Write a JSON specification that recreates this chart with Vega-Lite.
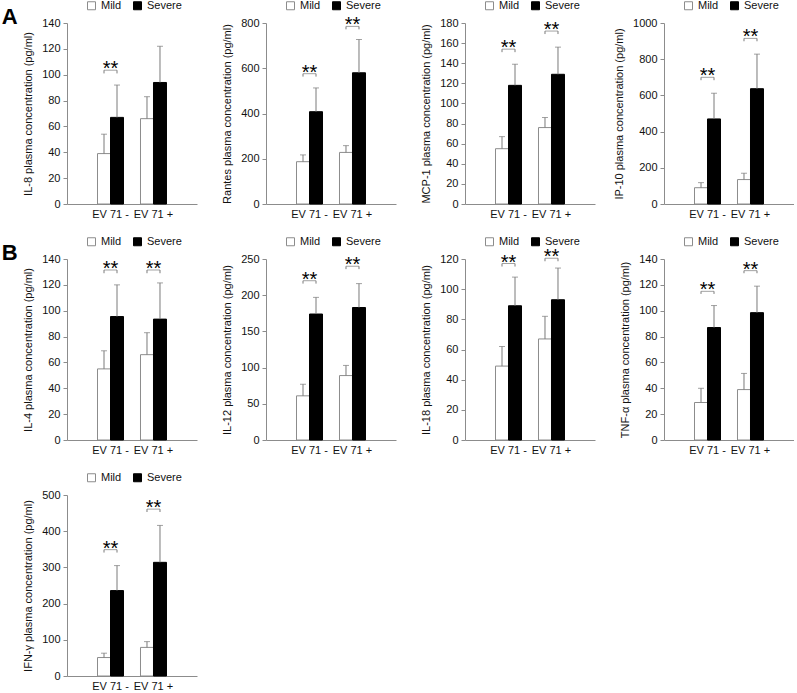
{
"$schema": "https://vega.github.io/schema/vega-lite/v6.json",
"background": "white",
"padding": {"left": 1, "top": 0, "right": 0, "bottom": 0},
"config": {
 "font": "Liberation Sans",
 "view": {"stroke": null},
 "axis": {"labelFontSize": 11, "titleFontSize": 11, "titleFontWeight": "normal", "labelColor": "#111", "titleColor": "#111", "domainColor": "#8c8c8c", "tickColor": "#8c8c8c", "grid": false, "labelOverlap": false},
 "axisY": {"tickSize": 4, "labelPadding": 3, "titlePadding": 8, "format": "d"},
 "axisX": {"ticks": false, "labelPadding": 4, "labelAngle": 0},
 "legend": {"symbolType": "square", "symbolSize": 64, "labelFontSize": 11, "labelColor": "#111", "symbolStrokeColor": "#8c8c8c", "symbolStrokeWidth": 1, "columnPadding": 9, "labelOffset": 4, "padding": 0}
},
"datasets": {
 "bars": [
  {"p": "IL-8", "g": "EV 71 -", "s": "Mild", "v": 39, "hi": 54},
  {"p": "IL-8", "g": "EV 71 -", "s": "Severe", "v": 67, "hi": 92},
  {"p": "IL-8", "g": "EV 71 +", "s": "Mild", "v": 66, "hi": 83},
  {"p": "IL-8", "g": "EV 71 +", "s": "Severe", "v": 94, "hi": 122},
  {"p": "Rantes", "g": "EV 71 -", "s": "Mild", "v": 187, "hi": 217},
  {"p": "Rantes", "g": "EV 71 -", "s": "Severe", "v": 408, "hi": 513},
  {"p": "Rantes", "g": "EV 71 +", "s": "Mild", "v": 228, "hi": 258},
  {"p": "Rantes", "g": "EV 71 +", "s": "Severe", "v": 580, "hi": 727},
  {"p": "MCP-1", "g": "EV 71 -", "s": "Mild", "v": 55, "hi": 67},
  {"p": "MCP-1", "g": "EV 71 -", "s": "Severe", "v": 118, "hi": 139},
  {"p": "MCP-1", "g": "EV 71 +", "s": "Mild", "v": 76, "hi": 86},
  {"p": "MCP-1", "g": "EV 71 +", "s": "Severe", "v": 129, "hi": 156},
  {"p": "IP-10", "g": "EV 71 -", "s": "Mild", "v": 90, "hi": 118},
  {"p": "IP-10", "g": "EV 71 -", "s": "Severe", "v": 470, "hi": 612},
  {"p": "IP-10", "g": "EV 71 +", "s": "Mild", "v": 135, "hi": 170},
  {"p": "IP-10", "g": "EV 71 +", "s": "Severe", "v": 637, "hi": 828},
  {"p": "IL-4", "g": "EV 71 -", "s": "Mild", "v": 55, "hi": 69},
  {"p": "IL-4", "g": "EV 71 -", "s": "Severe", "v": 95.5, "hi": 120},
  {"p": "IL-4", "g": "EV 71 +", "s": "Mild", "v": 66, "hi": 83},
  {"p": "IL-4", "g": "EV 71 +", "s": "Severe", "v": 93.5, "hi": 121.5},
  {"p": "IL-12", "g": "EV 71 -", "s": "Mild", "v": 61, "hi": 77},
  {"p": "IL-12", "g": "EV 71 -", "s": "Severe", "v": 174, "hi": 197},
  {"p": "IL-12", "g": "EV 71 +", "s": "Mild", "v": 89, "hi": 103},
  {"p": "IL-12", "g": "EV 71 +", "s": "Severe", "v": 183, "hi": 216},
  {"p": "IL-18", "g": "EV 71 -", "s": "Mild", "v": 49, "hi": 62},
  {"p": "IL-18", "g": "EV 71 -", "s": "Severe", "v": 89, "hi": 108},
  {"p": "IL-18", "g": "EV 71 +", "s": "Mild", "v": 67, "hi": 82},
  {"p": "IL-18", "g": "EV 71 +", "s": "Severe", "v": 93, "hi": 114},
  {"p": "TNF", "g": "EV 71 -", "s": "Mild", "v": 29, "hi": 40},
  {"p": "TNF", "g": "EV 71 -", "s": "Severe", "v": 87, "hi": 104},
  {"p": "TNF", "g": "EV 71 +", "s": "Mild", "v": 39, "hi": 51.5},
  {"p": "TNF", "g": "EV 71 +", "s": "Severe", "v": 98.5, "hi": 119},
  {"p": "IFN", "g": "EV 71 -", "s": "Mild", "v": 51, "hi": 63},
  {"p": "IFN", "g": "EV 71 -", "s": "Severe", "v": 236, "hi": 305},
  {"p": "IFN", "g": "EV 71 +", "s": "Mild", "v": 79, "hi": 95},
  {"p": "IFN", "g": "EV 71 +", "s": "Severe", "v": 314, "hi": 416}
 ],
 "sig": [
  {"p": "IL-8", "g": "EV 71 -", "s": "Mild", "top": 103.5, "low": 101},
  {"p": "IL-8", "g": "EV 71 -", "s": "Severe", "top": 103.5, "low": 101},
  {"p": "Rantes", "g": "EV 71 -", "s": "Mild", "top": 576, "low": 563},
  {"p": "Rantes", "g": "EV 71 -", "s": "Severe", "top": 576, "low": 563},
  {"p": "Rantes", "g": "EV 71 +", "s": "Mild", "top": 785, "low": 772},
  {"p": "Rantes", "g": "EV 71 +", "s": "Severe", "top": 785, "low": 772},
  {"p": "MCP-1", "g": "EV 71 -", "s": "Mild", "top": 154, "low": 151},
  {"p": "MCP-1", "g": "EV 71 -", "s": "Severe", "top": 154, "low": 151},
  {"p": "MCP-1", "g": "EV 71 +", "s": "Mild", "top": 172, "low": 169},
  {"p": "MCP-1", "g": "EV 71 +", "s": "Severe", "top": 172, "low": 169},
  {"p": "IP-10", "g": "EV 71 -", "s": "Mild", "top": 700, "low": 684},
  {"p": "IP-10", "g": "EV 71 -", "s": "Severe", "top": 700, "low": 684},
  {"p": "IP-10", "g": "EV 71 +", "s": "Mild", "top": 915, "low": 899},
  {"p": "IP-10", "g": "EV 71 +", "s": "Severe", "top": 915, "low": 899},
  {"p": "IL-4", "g": "EV 71 -", "s": "Mild", "top": 131.5, "low": 129},
  {"p": "IL-4", "g": "EV 71 -", "s": "Severe", "top": 131.5, "low": 129},
  {"p": "IL-4", "g": "EV 71 +", "s": "Mild", "top": 131.5, "low": 129},
  {"p": "IL-4", "g": "EV 71 +", "s": "Severe", "top": 131.5, "low": 129},
  {"p": "IL-12", "g": "EV 71 -", "s": "Mild", "top": 220, "low": 216},
  {"p": "IL-12", "g": "EV 71 -", "s": "Severe", "top": 220, "low": 216},
  {"p": "IL-12", "g": "EV 71 +", "s": "Mild", "top": 240, "low": 236},
  {"p": "IL-12", "g": "EV 71 +", "s": "Severe", "top": 240, "low": 236},
  {"p": "IL-18", "g": "EV 71 -", "s": "Mild", "top": 117, "low": 115},
  {"p": "IL-18", "g": "EV 71 -", "s": "Severe", "top": 117, "low": 115},
  {"p": "IL-18", "g": "EV 71 +", "s": "Mild", "top": 120.5, "low": 118.5},
  {"p": "IL-18", "g": "EV 71 +", "s": "Severe", "top": 120.5, "low": 118.5},
  {"p": "TNF", "g": "EV 71 -", "s": "Mild", "top": 115, "low": 113},
  {"p": "TNF", "g": "EV 71 -", "s": "Severe", "top": 115, "low": 113},
  {"p": "TNF", "g": "EV 71 +", "s": "Mild", "top": 131, "low": 129},
  {"p": "TNF", "g": "EV 71 +", "s": "Severe", "top": 131, "low": 129},
  {"p": "IFN", "g": "EV 71 -", "s": "Mild", "top": 349, "low": 341},
  {"p": "IFN", "g": "EV 71 -", "s": "Severe", "top": 349, "low": 341},
  {"p": "IFN", "g": "EV 71 +", "s": "Mild", "top": 461, "low": 453},
  {"p": "IFN", "g": "EV 71 +", "s": "Severe", "top": 461, "low": 453}
 ]
},
"columns": 4,
"spacing": {"row": 55, "column": 69},
"bounds": "flush",
"resolve": {"scale": {"color": "independent", "stroke": "independent"}},
"concat": [
   {"width": 130, "height": 181,
    "title": {"text": "A", "orient": "left", "anchor": "end", "frame": "group", "angle": 0, "align": "right", "baseline": "alphabetic", "fontSize": 22, "fontWeight": "bold", "offset": 6, "dy": 1, "dx": 17, "color": "#000"},
    "encoding": {"x": {"field": "g", "type": "nominal", "sort": ["EV 71 -", "EV 71 +"], "scale": {"paddingInner": 0.395, "paddingOuter": 0.71}, "axis": {"title": null}}},
    "layer": [
     {"data": {"name": "bars"}, "transform": [{"filter": "datum.p == 'IL-8'"}], "mark": {"type": "bar", "strokeWidth": 1},
      "encoding": {"xOffset": {"field": "s", "type": "nominal", "sort": ["Mild", "Severe"], "scale": {"paddingInner": 0, "paddingOuter": 0}},
       "y": {"field": "v", "type": "quantitative", "scale": {"domain": [0, 140], "nice": false}, "axis": {"title": "IL-8 plasma concentration (pg/ml)", "values": [0, 20, 40, 60, 80, 100, 120, 140], "labelOverlap": false, "tickCount": 8}},
       "color": {"field": "s", "type": "nominal", "scale": {"domain": ["Mild", "Severe"], "range": ["#ffffff", "#000000"]}, "legend": {"orient": "none", "legendX": 19, "legendY": -23, "direction": "horizontal", "title": null}},
       "stroke": {"field": "s", "type": "nominal", "scale": {"domain": ["Mild", "Severe"], "range": ["#8c8c8c", "#000000"]}, "legend": null}}},
     {"data": {"name": "bars"}, "transform": [{"filter": "datum.p == 'IL-8'"}], "mark": {"type": "rule", "color": "#7a7a7a"},
      "encoding": {"xOffset": {"field": "s", "type": "nominal", "sort": ["Mild", "Severe"]}, "y": {"field": "v", "type": "quantitative"}, "y2": {"field": "hi"}}},
     {"data": {"name": "bars"}, "transform": [{"filter": "datum.p == 'IL-8'"}], "mark": {"type": "tick", "orient": "horizontal", "size": 6, "thickness": 1, "color": "#7a7a7a"},
      "encoding": {"xOffset": {"field": "s", "type": "nominal", "sort": ["Mild", "Severe"]}, "y": {"field": "hi", "type": "quantitative"}}},
     {"data": {"name": "sig"}, "transform": [{"filter": "datum.p == 'IL-8'"}], "mark": {"type": "rule", "color": "#7a7a7a"},
      "encoding": {"xOffset": {"field": "s", "type": "nominal", "sort": ["Mild", "Severe"]}, "y": {"field": "low", "type": "quantitative"}, "y2": {"field": "top"}}},
     {"data": {"name": "sig"}, "transform": [{"filter": "datum.p == 'IL-8' && datum.s == 'Mild'"}], "mark": {"type": "tick", "orient": "horizontal", "size": 13, "thickness": 1, "color": "#7a7a7a"},
      "encoding": {"y": {"field": "top", "type": "quantitative"}}},
     {"data": {"name": "sig"}, "transform": [{"filter": "datum.p == 'IL-8' && datum.s == 'Mild'"}], "mark": {"type": "text", "text": "**", "fontSize": 20, "baseline": "alphabetic", "dy": 5, "color": "#000"},
      "encoding": {"y": {"field": "top", "type": "quantitative"}}}
    ]},
   {"width": 130, "height": 181,
    "encoding": {"x": {"field": "g", "type": "nominal", "sort": ["EV 71 -", "EV 71 +"], "scale": {"paddingInner": 0.395, "paddingOuter": 0.71}, "axis": {"title": null}}},
    "layer": [
     {"data": {"name": "bars"}, "transform": [{"filter": "datum.p == 'Rantes'"}], "mark": {"type": "bar", "strokeWidth": 1},
      "encoding": {"xOffset": {"field": "s", "type": "nominal", "sort": ["Mild", "Severe"], "scale": {"paddingInner": 0, "paddingOuter": 0}},
       "y": {"field": "v", "type": "quantitative", "scale": {"domain": [0, 800], "nice": false}, "axis": {"title": "Rantes plasma concentration (pg/ml)", "values": [0, 200, 400, 600, 800], "labelOverlap": false, "tickCount": 5}},
       "color": {"field": "s", "type": "nominal", "scale": {"domain": ["Mild", "Severe"], "range": ["#ffffff", "#000000"]}, "legend": {"orient": "none", "legendX": 19, "legendY": -23, "direction": "horizontal", "title": null}},
       "stroke": {"field": "s", "type": "nominal", "scale": {"domain": ["Mild", "Severe"], "range": ["#8c8c8c", "#000000"]}, "legend": null}}},
     {"data": {"name": "bars"}, "transform": [{"filter": "datum.p == 'Rantes'"}], "mark": {"type": "rule", "color": "#7a7a7a"},
      "encoding": {"xOffset": {"field": "s", "type": "nominal", "sort": ["Mild", "Severe"]}, "y": {"field": "v", "type": "quantitative"}, "y2": {"field": "hi"}}},
     {"data": {"name": "bars"}, "transform": [{"filter": "datum.p == 'Rantes'"}], "mark": {"type": "tick", "orient": "horizontal", "size": 6, "thickness": 1, "color": "#7a7a7a"},
      "encoding": {"xOffset": {"field": "s", "type": "nominal", "sort": ["Mild", "Severe"]}, "y": {"field": "hi", "type": "quantitative"}}},
     {"data": {"name": "sig"}, "transform": [{"filter": "datum.p == 'Rantes'"}], "mark": {"type": "rule", "color": "#7a7a7a"},
      "encoding": {"xOffset": {"field": "s", "type": "nominal", "sort": ["Mild", "Severe"]}, "y": {"field": "low", "type": "quantitative"}, "y2": {"field": "top"}}},
     {"data": {"name": "sig"}, "transform": [{"filter": "datum.p == 'Rantes' && datum.s == 'Mild'"}], "mark": {"type": "tick", "orient": "horizontal", "size": 13, "thickness": 1, "color": "#7a7a7a"},
      "encoding": {"y": {"field": "top", "type": "quantitative"}}},
     {"data": {"name": "sig"}, "transform": [{"filter": "datum.p == 'Rantes' && datum.s == 'Mild'"}], "mark": {"type": "text", "text": "**", "fontSize": 20, "baseline": "alphabetic", "dy": 5, "color": "#000"},
      "encoding": {"y": {"field": "top", "type": "quantitative"}}}
    ]},
   {"width": 130, "height": 181,
    "encoding": {"x": {"field": "g", "type": "nominal", "sort": ["EV 71 -", "EV 71 +"], "scale": {"paddingInner": 0.395, "paddingOuter": 0.71}, "axis": {"title": null}}},
    "layer": [
     {"data": {"name": "bars"}, "transform": [{"filter": "datum.p == 'MCP-1'"}], "mark": {"type": "bar", "strokeWidth": 1},
      "encoding": {"xOffset": {"field": "s", "type": "nominal", "sort": ["Mild", "Severe"], "scale": {"paddingInner": 0, "paddingOuter": 0}},
       "y": {"field": "v", "type": "quantitative", "scale": {"domain": [0, 180], "nice": false}, "axis": {"title": "MCP-1 plasma concentration (pg/ml)", "values": [0, 20, 40, 60, 80, 100, 120, 140, 160, 180], "labelOverlap": false, "tickCount": 10}},
       "color": {"field": "s", "type": "nominal", "scale": {"domain": ["Mild", "Severe"], "range": ["#ffffff", "#000000"]}, "legend": {"orient": "none", "legendX": 19, "legendY": -23, "direction": "horizontal", "title": null}},
       "stroke": {"field": "s", "type": "nominal", "scale": {"domain": ["Mild", "Severe"], "range": ["#8c8c8c", "#000000"]}, "legend": null}}},
     {"data": {"name": "bars"}, "transform": [{"filter": "datum.p == 'MCP-1'"}], "mark": {"type": "rule", "color": "#7a7a7a"},
      "encoding": {"xOffset": {"field": "s", "type": "nominal", "sort": ["Mild", "Severe"]}, "y": {"field": "v", "type": "quantitative"}, "y2": {"field": "hi"}}},
     {"data": {"name": "bars"}, "transform": [{"filter": "datum.p == 'MCP-1'"}], "mark": {"type": "tick", "orient": "horizontal", "size": 6, "thickness": 1, "color": "#7a7a7a"},
      "encoding": {"xOffset": {"field": "s", "type": "nominal", "sort": ["Mild", "Severe"]}, "y": {"field": "hi", "type": "quantitative"}}},
     {"data": {"name": "sig"}, "transform": [{"filter": "datum.p == 'MCP-1'"}], "mark": {"type": "rule", "color": "#7a7a7a"},
      "encoding": {"xOffset": {"field": "s", "type": "nominal", "sort": ["Mild", "Severe"]}, "y": {"field": "low", "type": "quantitative"}, "y2": {"field": "top"}}},
     {"data": {"name": "sig"}, "transform": [{"filter": "datum.p == 'MCP-1' && datum.s == 'Mild'"}], "mark": {"type": "tick", "orient": "horizontal", "size": 13, "thickness": 1, "color": "#7a7a7a"},
      "encoding": {"y": {"field": "top", "type": "quantitative"}}},
     {"data": {"name": "sig"}, "transform": [{"filter": "datum.p == 'MCP-1' && datum.s == 'Mild'"}], "mark": {"type": "text", "text": "**", "fontSize": 20, "baseline": "alphabetic", "dy": 5, "color": "#000"},
      "encoding": {"y": {"field": "top", "type": "quantitative"}}}
    ]},
   {"width": 130, "height": 181,
    "encoding": {"x": {"field": "g", "type": "nominal", "sort": ["EV 71 -", "EV 71 +"], "scale": {"paddingInner": 0.395, "paddingOuter": 0.71}, "axis": {"title": null}}},
    "layer": [
     {"data": {"name": "bars"}, "transform": [{"filter": "datum.p == 'IP-10'"}], "mark": {"type": "bar", "strokeWidth": 1},
      "encoding": {"xOffset": {"field": "s", "type": "nominal", "sort": ["Mild", "Severe"], "scale": {"paddingInner": 0, "paddingOuter": 0}},
       "y": {"field": "v", "type": "quantitative", "scale": {"domain": [0, 1000], "nice": false}, "axis": {"title": "IP-10 plasma concentration (pg/ml)", "values": [0, 200, 400, 600, 800, 1000], "labelOverlap": false, "tickCount": 6, "format": "d"}},
       "color": {"field": "s", "type": "nominal", "scale": {"domain": ["Mild", "Severe"], "range": ["#ffffff", "#000000"]}, "legend": {"orient": "none", "legendX": 19, "legendY": -23, "direction": "horizontal", "title": null}},
       "stroke": {"field": "s", "type": "nominal", "scale": {"domain": ["Mild", "Severe"], "range": ["#8c8c8c", "#000000"]}, "legend": null}}},
     {"data": {"name": "bars"}, "transform": [{"filter": "datum.p == 'IP-10'"}], "mark": {"type": "rule", "color": "#7a7a7a"},
      "encoding": {"xOffset": {"field": "s", "type": "nominal", "sort": ["Mild", "Severe"]}, "y": {"field": "v", "type": "quantitative"}, "y2": {"field": "hi"}}},
     {"data": {"name": "bars"}, "transform": [{"filter": "datum.p == 'IP-10'"}], "mark": {"type": "tick", "orient": "horizontal", "size": 6, "thickness": 1, "color": "#7a7a7a"},
      "encoding": {"xOffset": {"field": "s", "type": "nominal", "sort": ["Mild", "Severe"]}, "y": {"field": "hi", "type": "quantitative"}}},
     {"data": {"name": "sig"}, "transform": [{"filter": "datum.p == 'IP-10'"}], "mark": {"type": "rule", "color": "#7a7a7a"},
      "encoding": {"xOffset": {"field": "s", "type": "nominal", "sort": ["Mild", "Severe"]}, "y": {"field": "low", "type": "quantitative"}, "y2": {"field": "top"}}},
     {"data": {"name": "sig"}, "transform": [{"filter": "datum.p == 'IP-10' && datum.s == 'Mild'"}], "mark": {"type": "tick", "orient": "horizontal", "size": 13, "thickness": 1, "color": "#7a7a7a"},
      "encoding": {"y": {"field": "top", "type": "quantitative"}}},
     {"data": {"name": "sig"}, "transform": [{"filter": "datum.p == 'IP-10' && datum.s == 'Mild'"}], "mark": {"type": "text", "text": "**", "fontSize": 20, "baseline": "alphabetic", "dy": 5, "color": "#000"},
      "encoding": {"y": {"field": "top", "type": "quantitative"}}}
    ]},
   {"width": 130, "height": 181,
    "title": {"text": "B", "orient": "left", "anchor": "end", "frame": "group", "angle": 0, "align": "right", "baseline": "alphabetic", "fontSize": 22, "fontWeight": "bold", "offset": 6, "dy": 1, "dx": 17, "color": "#000"},
    "encoding": {"x": {"field": "g", "type": "nominal", "sort": ["EV 71 -", "EV 71 +"], "scale": {"paddingInner": 0.395, "paddingOuter": 0.71}, "axis": {"title": null}}},
    "layer": [
     {"data": {"name": "bars"}, "transform": [{"filter": "datum.p == 'IL-4'"}], "mark": {"type": "bar", "strokeWidth": 1},
      "encoding": {"xOffset": {"field": "s", "type": "nominal", "sort": ["Mild", "Severe"], "scale": {"paddingInner": 0, "paddingOuter": 0}},
       "y": {"field": "v", "type": "quantitative", "scale": {"domain": [0, 140], "nice": false}, "axis": {"title": "IL-4 plasma concentration (pg/ml)", "values": [0, 20, 40, 60, 80, 100, 120, 140], "labelOverlap": false, "tickCount": 8}},
       "color": {"field": "s", "type": "nominal", "scale": {"domain": ["Mild", "Severe"], "range": ["#ffffff", "#000000"]}, "legend": {"orient": "none", "legendX": 19, "legendY": -23, "direction": "horizontal", "title": null}},
       "stroke": {"field": "s", "type": "nominal", "scale": {"domain": ["Mild", "Severe"], "range": ["#8c8c8c", "#000000"]}, "legend": null}}},
     {"data": {"name": "bars"}, "transform": [{"filter": "datum.p == 'IL-4'"}], "mark": {"type": "rule", "color": "#7a7a7a"},
      "encoding": {"xOffset": {"field": "s", "type": "nominal", "sort": ["Mild", "Severe"]}, "y": {"field": "v", "type": "quantitative"}, "y2": {"field": "hi"}}},
     {"data": {"name": "bars"}, "transform": [{"filter": "datum.p == 'IL-4'"}], "mark": {"type": "tick", "orient": "horizontal", "size": 6, "thickness": 1, "color": "#7a7a7a"},
      "encoding": {"xOffset": {"field": "s", "type": "nominal", "sort": ["Mild", "Severe"]}, "y": {"field": "hi", "type": "quantitative"}}},
     {"data": {"name": "sig"}, "transform": [{"filter": "datum.p == 'IL-4'"}], "mark": {"type": "rule", "color": "#7a7a7a"},
      "encoding": {"xOffset": {"field": "s", "type": "nominal", "sort": ["Mild", "Severe"]}, "y": {"field": "low", "type": "quantitative"}, "y2": {"field": "top"}}},
     {"data": {"name": "sig"}, "transform": [{"filter": "datum.p == 'IL-4' && datum.s == 'Mild'"}], "mark": {"type": "tick", "orient": "horizontal", "size": 13, "thickness": 1, "color": "#7a7a7a"},
      "encoding": {"y": {"field": "top", "type": "quantitative"}}},
     {"data": {"name": "sig"}, "transform": [{"filter": "datum.p == 'IL-4' && datum.s == 'Mild'"}], "mark": {"type": "text", "text": "**", "fontSize": 20, "baseline": "alphabetic", "dy": 5, "color": "#000"},
      "encoding": {"y": {"field": "top", "type": "quantitative"}}}
    ]},
   {"width": 130, "height": 181,
    "encoding": {"x": {"field": "g", "type": "nominal", "sort": ["EV 71 -", "EV 71 +"], "scale": {"paddingInner": 0.395, "paddingOuter": 0.71}, "axis": {"title": null}}},
    "layer": [
     {"data": {"name": "bars"}, "transform": [{"filter": "datum.p == 'IL-12'"}], "mark": {"type": "bar", "strokeWidth": 1},
      "encoding": {"xOffset": {"field": "s", "type": "nominal", "sort": ["Mild", "Severe"], "scale": {"paddingInner": 0, "paddingOuter": 0}},
       "y": {"field": "v", "type": "quantitative", "scale": {"domain": [0, 250], "nice": false}, "axis": {"title": "IL-12 plasma concentration (pg/ml)", "values": [0, 50, 100, 150, 200, 250], "labelOverlap": false, "tickCount": 6}},
       "color": {"field": "s", "type": "nominal", "scale": {"domain": ["Mild", "Severe"], "range": ["#ffffff", "#000000"]}, "legend": {"orient": "none", "legendX": 19, "legendY": -23, "direction": "horizontal", "title": null}},
       "stroke": {"field": "s", "type": "nominal", "scale": {"domain": ["Mild", "Severe"], "range": ["#8c8c8c", "#000000"]}, "legend": null}}},
     {"data": {"name": "bars"}, "transform": [{"filter": "datum.p == 'IL-12'"}], "mark": {"type": "rule", "color": "#7a7a7a"},
      "encoding": {"xOffset": {"field": "s", "type": "nominal", "sort": ["Mild", "Severe"]}, "y": {"field": "v", "type": "quantitative"}, "y2": {"field": "hi"}}},
     {"data": {"name": "bars"}, "transform": [{"filter": "datum.p == 'IL-12'"}], "mark": {"type": "tick", "orient": "horizontal", "size": 6, "thickness": 1, "color": "#7a7a7a"},
      "encoding": {"xOffset": {"field": "s", "type": "nominal", "sort": ["Mild", "Severe"]}, "y": {"field": "hi", "type": "quantitative"}}},
     {"data": {"name": "sig"}, "transform": [{"filter": "datum.p == 'IL-12'"}], "mark": {"type": "rule", "color": "#7a7a7a"},
      "encoding": {"xOffset": {"field": "s", "type": "nominal", "sort": ["Mild", "Severe"]}, "y": {"field": "low", "type": "quantitative"}, "y2": {"field": "top"}}},
     {"data": {"name": "sig"}, "transform": [{"filter": "datum.p == 'IL-12' && datum.s == 'Mild'"}], "mark": {"type": "tick", "orient": "horizontal", "size": 13, "thickness": 1, "color": "#7a7a7a"},
      "encoding": {"y": {"field": "top", "type": "quantitative"}}},
     {"data": {"name": "sig"}, "transform": [{"filter": "datum.p == 'IL-12' && datum.s == 'Mild'"}], "mark": {"type": "text", "text": "**", "fontSize": 20, "baseline": "alphabetic", "dy": 5, "color": "#000"},
      "encoding": {"y": {"field": "top", "type": "quantitative"}}}
    ]},
   {"width": 130, "height": 181,
    "encoding": {"x": {"field": "g", "type": "nominal", "sort": ["EV 71 -", "EV 71 +"], "scale": {"paddingInner": 0.395, "paddingOuter": 0.71}, "axis": {"title": null}}},
    "layer": [
     {"data": {"name": "bars"}, "transform": [{"filter": "datum.p == 'IL-18'"}], "mark": {"type": "bar", "strokeWidth": 1},
      "encoding": {"xOffset": {"field": "s", "type": "nominal", "sort": ["Mild", "Severe"], "scale": {"paddingInner": 0, "paddingOuter": 0}},
       "y": {"field": "v", "type": "quantitative", "scale": {"domain": [0, 120], "nice": false}, "axis": {"title": "IL-18 plasma concentration (pg/ml)", "values": [0, 20, 40, 60, 80, 100, 120], "labelOverlap": false, "tickCount": 7}},
       "color": {"field": "s", "type": "nominal", "scale": {"domain": ["Mild", "Severe"], "range": ["#ffffff", "#000000"]}, "legend": {"orient": "none", "legendX": 19, "legendY": -23, "direction": "horizontal", "title": null}},
       "stroke": {"field": "s", "type": "nominal", "scale": {"domain": ["Mild", "Severe"], "range": ["#8c8c8c", "#000000"]}, "legend": null}}},
     {"data": {"name": "bars"}, "transform": [{"filter": "datum.p == 'IL-18'"}], "mark": {"type": "rule", "color": "#7a7a7a"},
      "encoding": {"xOffset": {"field": "s", "type": "nominal", "sort": ["Mild", "Severe"]}, "y": {"field": "v", "type": "quantitative"}, "y2": {"field": "hi"}}},
     {"data": {"name": "bars"}, "transform": [{"filter": "datum.p == 'IL-18'"}], "mark": {"type": "tick", "orient": "horizontal", "size": 6, "thickness": 1, "color": "#7a7a7a"},
      "encoding": {"xOffset": {"field": "s", "type": "nominal", "sort": ["Mild", "Severe"]}, "y": {"field": "hi", "type": "quantitative"}}},
     {"data": {"name": "sig"}, "transform": [{"filter": "datum.p == 'IL-18'"}], "mark": {"type": "rule", "color": "#7a7a7a"},
      "encoding": {"xOffset": {"field": "s", "type": "nominal", "sort": ["Mild", "Severe"]}, "y": {"field": "low", "type": "quantitative"}, "y2": {"field": "top"}}},
     {"data": {"name": "sig"}, "transform": [{"filter": "datum.p == 'IL-18' && datum.s == 'Mild'"}], "mark": {"type": "tick", "orient": "horizontal", "size": 13, "thickness": 1, "color": "#7a7a7a"},
      "encoding": {"y": {"field": "top", "type": "quantitative"}}},
     {"data": {"name": "sig"}, "transform": [{"filter": "datum.p == 'IL-18' && datum.s == 'Mild'"}], "mark": {"type": "text", "text": "**", "fontSize": 20, "baseline": "alphabetic", "dy": 5, "color": "#000"},
      "encoding": {"y": {"field": "top", "type": "quantitative"}}}
    ]},
   {"width": 130, "height": 181,
    "encoding": {"x": {"field": "g", "type": "nominal", "sort": ["EV 71 -", "EV 71 +"], "scale": {"paddingInner": 0.395, "paddingOuter": 0.71}, "axis": {"title": null}}},
    "layer": [
     {"data": {"name": "bars"}, "transform": [{"filter": "datum.p == 'TNF'"}], "mark": {"type": "bar", "strokeWidth": 1},
      "encoding": {"xOffset": {"field": "s", "type": "nominal", "sort": ["Mild", "Severe"], "scale": {"paddingInner": 0, "paddingOuter": 0}},
       "y": {"field": "v", "type": "quantitative", "scale": {"domain": [0, 140], "nice": false}, "axis": {"title": "TNF-α  plasma concentration (pg/ml)", "values": [0, 20, 40, 60, 80, 100, 120, 140], "labelOverlap": false, "tickCount": 8}},
       "color": {"field": "s", "type": "nominal", "scale": {"domain": ["Mild", "Severe"], "range": ["#ffffff", "#000000"]}, "legend": {"orient": "none", "legendX": 19, "legendY": -23, "direction": "horizontal", "title": null}},
       "stroke": {"field": "s", "type": "nominal", "scale": {"domain": ["Mild", "Severe"], "range": ["#8c8c8c", "#000000"]}, "legend": null}}},
     {"data": {"name": "bars"}, "transform": [{"filter": "datum.p == 'TNF'"}], "mark": {"type": "rule", "color": "#7a7a7a"},
      "encoding": {"xOffset": {"field": "s", "type": "nominal", "sort": ["Mild", "Severe"]}, "y": {"field": "v", "type": "quantitative"}, "y2": {"field": "hi"}}},
     {"data": {"name": "bars"}, "transform": [{"filter": "datum.p == 'TNF'"}], "mark": {"type": "tick", "orient": "horizontal", "size": 6, "thickness": 1, "color": "#7a7a7a"},
      "encoding": {"xOffset": {"field": "s", "type": "nominal", "sort": ["Mild", "Severe"]}, "y": {"field": "hi", "type": "quantitative"}}},
     {"data": {"name": "sig"}, "transform": [{"filter": "datum.p == 'TNF'"}], "mark": {"type": "rule", "color": "#7a7a7a"},
      "encoding": {"xOffset": {"field": "s", "type": "nominal", "sort": ["Mild", "Severe"]}, "y": {"field": "low", "type": "quantitative"}, "y2": {"field": "top"}}},
     {"data": {"name": "sig"}, "transform": [{"filter": "datum.p == 'TNF' && datum.s == 'Mild'"}], "mark": {"type": "tick", "orient": "horizontal", "size": 13, "thickness": 1, "color": "#7a7a7a"},
      "encoding": {"y": {"field": "top", "type": "quantitative"}}},
     {"data": {"name": "sig"}, "transform": [{"filter": "datum.p == 'TNF' && datum.s == 'Mild'"}], "mark": {"type": "text", "text": "**", "fontSize": 20, "baseline": "alphabetic", "dy": 5, "color": "#000"},
      "encoding": {"y": {"field": "top", "type": "quantitative"}}}
    ]},
   {"width": 130, "height": 181,
    "encoding": {"x": {"field": "g", "type": "nominal", "sort": ["EV 71 -", "EV 71 +"], "scale": {"paddingInner": 0.395, "paddingOuter": 0.71}, "axis": {"title": null}}},
    "layer": [
     {"data": {"name": "bars"}, "transform": [{"filter": "datum.p == 'IFN'"}], "mark": {"type": "bar", "strokeWidth": 1},
      "encoding": {"xOffset": {"field": "s", "type": "nominal", "sort": ["Mild", "Severe"], "scale": {"paddingInner": 0, "paddingOuter": 0}},
       "y": {"field": "v", "type": "quantitative", "scale": {"domain": [0, 500], "nice": false}, "axis": {"title": "IFN-γ  plasma concentration (pg/ml)", "values": [0, 100, 200, 300, 400, 500], "labelOverlap": false, "tickCount": 6}},
       "color": {"field": "s", "type": "nominal", "scale": {"domain": ["Mild", "Severe"], "range": ["#ffffff", "#000000"]}, "legend": {"orient": "none", "legendX": 19, "legendY": -23, "direction": "horizontal", "title": null}},
       "stroke": {"field": "s", "type": "nominal", "scale": {"domain": ["Mild", "Severe"], "range": ["#8c8c8c", "#000000"]}, "legend": null}}},
     {"data": {"name": "bars"}, "transform": [{"filter": "datum.p == 'IFN'"}], "mark": {"type": "rule", "color": "#7a7a7a"},
      "encoding": {"xOffset": {"field": "s", "type": "nominal", "sort": ["Mild", "Severe"]}, "y": {"field": "v", "type": "quantitative"}, "y2": {"field": "hi"}}},
     {"data": {"name": "bars"}, "transform": [{"filter": "datum.p == 'IFN'"}], "mark": {"type": "tick", "orient": "horizontal", "size": 6, "thickness": 1, "color": "#7a7a7a"},
      "encoding": {"xOffset": {"field": "s", "type": "nominal", "sort": ["Mild", "Severe"]}, "y": {"field": "hi", "type": "quantitative"}}},
     {"data": {"name": "sig"}, "transform": [{"filter": "datum.p == 'IFN'"}], "mark": {"type": "rule", "color": "#7a7a7a"},
      "encoding": {"xOffset": {"field": "s", "type": "nominal", "sort": ["Mild", "Severe"]}, "y": {"field": "low", "type": "quantitative"}, "y2": {"field": "top"}}},
     {"data": {"name": "sig"}, "transform": [{"filter": "datum.p == 'IFN' && datum.s == 'Mild'"}], "mark": {"type": "tick", "orient": "horizontal", "size": 13, "thickness": 1, "color": "#7a7a7a"},
      "encoding": {"y": {"field": "top", "type": "quantitative"}}},
     {"data": {"name": "sig"}, "transform": [{"filter": "datum.p == 'IFN' && datum.s == 'Mild'"}], "mark": {"type": "text", "text": "**", "fontSize": 20, "baseline": "alphabetic", "dy": 5, "color": "#000"},
      "encoding": {"y": {"field": "top", "type": "quantitative"}}}
    ]}
]
}
